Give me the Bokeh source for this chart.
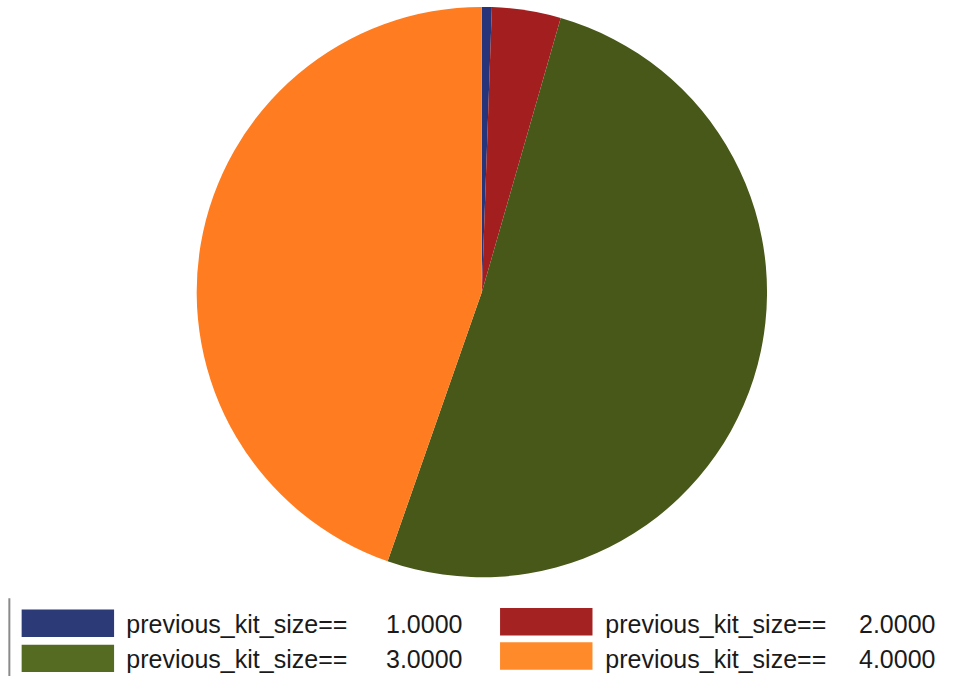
import numpy as np
from bokeh.plotting import figure
from bokeh.models import Range1d, ColumnDataSource
from bokeh.core.properties import value
from bokeh.embed import file_html
from bokeh.resources import INLINE

# ---- data ----
label_prefix = "previous_kit_size=="
categories = ["1.0000", "2.0000", "3.0000", "4.0000"]
shares = [0.56, 3.90, 50.90, 44.64]
colors = ["#28347a", "#a31f1f", "#475818", "#ff7d20"]
legend_colors = ["#2d3a78", "#a52222", "#556b22", "#ff8a2a"]

# reference canvas coordinates (962 x 692) mapped onto the figure
RW, RH = 962, 692
W, H = 946, 676
def px(x):
    return x
def py(y):
    return RH - y

p = figure(width=W, height=H, output_backend="svg", toolbar_location=None,
           x_range=Range1d(0, RW), y_range=Range1d(0, RH), min_border=0)
p.axis.visible = False
p.grid.visible = False
p.outline_line_color = None
p.background_fill_color = "white"

# ---- pie ----
frac = np.array(shares) / np.sum(shares)
cum = np.concatenate([[0], np.cumsum(frac)])
start = np.pi / 2 - cum[:-1] * 2 * np.pi
end = np.pi / 2 - cum[1:] * 2 * np.pi
src = ColumnDataSource(dict(start=start, end=end, color=colors))
p.wedge(x=px(489.5), y=py(298.5), radius=290, start_angle="start", end_angle="end",
        direction="clock", fill_color="color", line_color=None, source=src)

# ---- legend ----
p.segment(x0=[px(9)], y0=[py(612)], x1=[px(9)], y1=[py(692)], line_color="#8a8a8a", line_width=2)
sw_x = [68.5, 555, 68.5, 555]
sw_y = [637.5, 636, 673.5, 671]
lab_x = [128, 615, 128, 615]
val_x = [392, 873, 392, 873]
base_y = [638, 638, 674, 674]
lsrc = ColumnDataSource(dict(
    x=[px(v) for v in sw_x], y=[py(v) for v in sw_y], color=legend_colors,
    lx=[px(v) for v in lab_x], vx=[px(v) for v in val_x], by=[py(v) for v in base_y],
    lab=[label_prefix] * 4, val=categories))
p.rect(x="x", y="y", width=94, height=28, fill_color="color", line_color=None, source=lsrc)
p.text(x="lx", y="by", text="lab", source=lsrc, text_font=value("Liberation Sans"),
       text_font_size="25px", text_color="#1a1a1a", text_baseline="alphabetic", text_align="left")
p.text(x="vx", y="by", text="val", source=lsrc, text_font=value("Liberation Sans"),
       text_font_size="25px", text_color="#1a1a1a", text_baseline="alphabetic", text_align="left")

open("out.html", "w").write(file_html(p, INLINE))
